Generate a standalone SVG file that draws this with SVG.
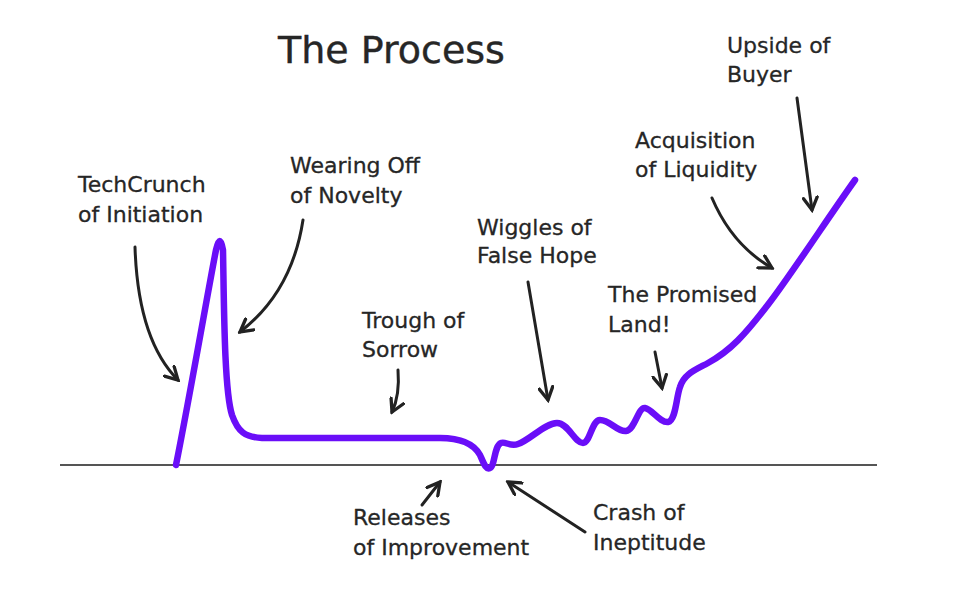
<svg xmlns="http://www.w3.org/2000/svg" width="965" height="589" viewBox="0 0 965 589">
<defs>
<marker id="ah" viewBox="0 0 12 12" refX="10" refY="6" markerWidth="5.5" markerHeight="5.5" orient="auto" markerUnits="strokeWidth">
<path d="M1,1 L10,6 L1,11" fill="none" stroke="#222" stroke-width="2.4" stroke-linejoin="miter" stroke-linecap="round"/>
</marker>
</defs>
<style>
text{font-family:"DejaVu Sans","Liberation Sans",sans-serif;font-size:22px;fill:#262626;stroke:#262626;stroke-width:0.3}
.title{font-size:38px;stroke-width:0.4}
.arr{fill:none;stroke:#222;stroke-width:3;stroke-linecap:round;marker-end:url(#ah)}
</style>
<rect width="965" height="589" fill="#fff"/>
<text class="title" x="278" y="63">The Process</text>
<line x1="60" y1="465" x2="877" y2="465" stroke="#555" stroke-width="2"/>
<path id="curve" d="M176,465 C190,395 210,280 216,250 Q220,232 223,250 C224,300 224,390 232,415 C238,432 245,437 262,438 L440,438 C462,438 474,444 480,455 C484,464 486,470 490,468 C495,466 494,446 501,443 C505,441 510,447 518,444 C530,440 545,423 557,423 C568,423 575,443 583,443 C590,443 592,420 600,420 C610,420 617,432 626,431 C635,430 638,407 645,408 C652,409 660,423 668,422 C676,420 676,398 680,387 C684,374 695,370 708,363 C730,351 745,335 770,302 C790,276 830,215 855,180" fill="none" stroke="#6a0ef8" stroke-width="6.5" stroke-linecap="round" stroke-linejoin="round"/>
<g id="connectors">
<path class="arr" d="M135,247 Q138,340 178,380"/>
<path class="arr" d="M303,220 Q292,292 240,332"/>
<path class="arr" d="M398,370 Q400,395 392,412"/>
<path class="arr" d="M528,282 L548,400"/>
<path class="arr" d="M655,352 L662,388"/>
<path class="arr" d="M422,505 L440,482"/>
<path class="arr" d="M585,532 L508,482"/>
<path class="arr" d="M712,198 Q732,245 772,268"/>
<path class="arr" d="M797,98 L812,210"/>
</g>
<g id="n-techcrunch"><text x="78" y="192">TechCrunch</text><text x="78" y="222">of Initiation</text></g>
<g id="n-wearing"><text x="290" y="173">Wearing Off</text><text x="290" y="203">of Novelty</text></g>
<g id="n-trough"><text x="362" y="328">Trough of</text><text x="362" y="357">Sorrow</text></g>
<g id="n-wiggles"><text x="477" y="235">Wiggles of</text><text x="477" y="263">False Hope</text></g>
<g id="n-promised"><text x="608" y="302">The Promised</text><text x="608" y="332">Land!</text></g>
<g id="n-releases"><text x="353" y="525">Releases</text><text x="353" y="555">of Improvement</text></g>
<g id="n-crash"><text x="593" y="520">Crash of</text><text x="593" y="550">Ineptitude</text></g>
<g id="n-acquisition"><text x="635" y="148">Acquisition</text><text x="635" y="177">of Liquidity</text></g>
<g id="n-upside"><text x="727" y="53">Upside of</text><text x="727" y="82">Buyer</text></g>
</svg>
